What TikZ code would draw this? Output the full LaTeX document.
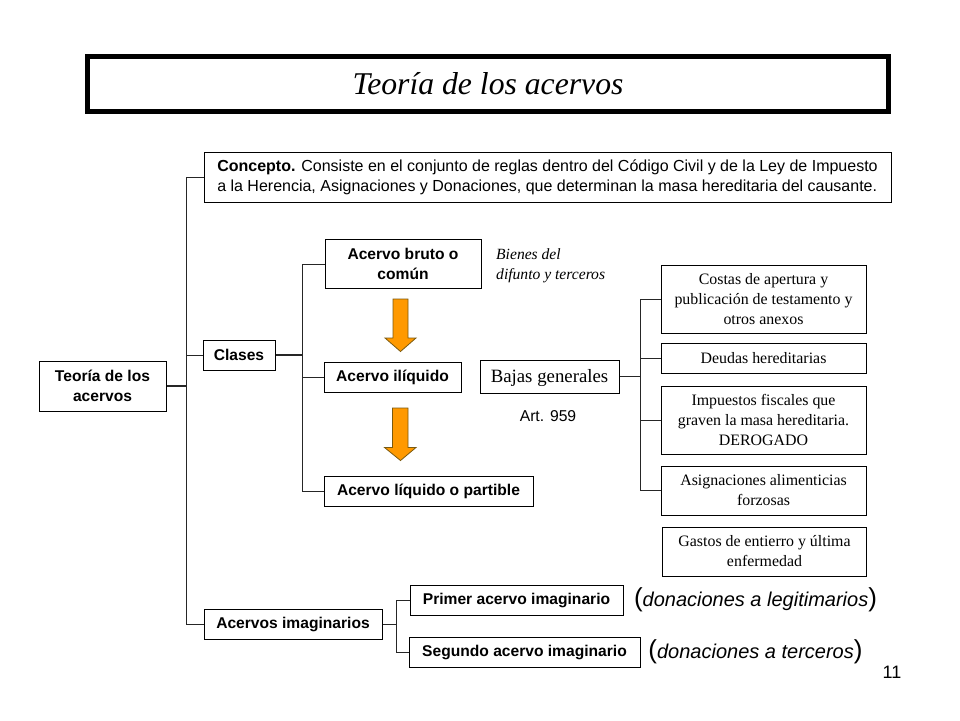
\documentclass[tikz,border=0pt]{standalone}
\usepackage{fontspec}
\setmainfont{Liberation Serif}
\setsansfont{Liberation Sans}
\definecolor{arroworange}{HTML}{FF9900}
\definecolor{arrowedge}{HTML}{7A5A10}
\tikzset{
  x=1pt,y=-1pt,
  bx/.style={draw=black,line width=1pt,fill=white,inner sep=0pt,align=center},
  sb/.style={bx,font=\sffamily\bfseries\fontsize{15.6}{20}\selectfont},
  sr/.style={bx,font=\fontsize{15.9}{20}\selectfont},
  conn/.style={draw=black!85,line width=1pt},
  downarrow/.style={draw=arrowedge,fill=arroworange,line width=.8pt,line join=miter},
  free/.style={inner sep=0pt,align=left}
}
\begin{document}
\begin{tikzpicture}
\useasboundingbox (0,0) rectangle (960,720);
\fill[white] (0,0) rectangle (960,720);
% title
\node[draw=black,line width=5pt,minimum width=801pt,minimum height=55pt,inner sep=0pt,font=\itshape\fontsize{31.7}{36}\selectfont] (title) at (488,84) {Teoría de los acervos};
% boxes
\node[bx,font=\sffamily\fontsize{16}{20}\selectfont,minimum width=687pt,minimum height=50pt,align=left] (concepto) at (547.5,177) {\textbf{Concepto.} Consiste en el conjunto de reglas dentro del Código Civil y de la Ley de Impuesto\\a la Herencia, Asignaciones y Donaciones, que determinan la masa hereditaria del causante.};
\node[sb,minimum width=127pt,minimum height=50pt] (root) at (102.5,386) {Teoría de los\\acervos};
\node[sb,minimum width=72pt,minimum height=30pt] (clases) at (239,355) {Clases};
\node[sb,minimum width=156pt,minimum height=49pt] (bruto) at (403,264) {Acervo bruto o\\común};
\node[sb,minimum width=137pt,minimum height=30pt] (iliquido) at (392.5,377) {Acervo ilíquido};
\node[sb,minimum width=209pt,minimum height=30pt] (liquido) at (428.5,491.5) {Acervo líquido o partible};
\node[bx,font=\fontsize{18.8}{22}\selectfont,minimum width=139pt,minimum height=33pt,text depth=1pt] (bajas) at (549.5,376.5) {Bajas generales};
\node[sr,minimum width=205pt,minimum height=68pt] (costas) at (763.5,299) {Costas de apertura y\\publicación de testamento y\\otros anexos};
\node[sr,minimum width=205pt,minimum height=30pt] (deudas) at (763.5,358) {Deudas hereditarias};
\node[sr,minimum width=205pt,minimum height=68pt] (impuestos) at (763.5,420) {Impuestos fiscales que\\graven la masa hereditaria.\\DEROGADO};
\node[sr,minimum width=205pt,minimum height=49pt] (asign) at (763.5,490.5) {Asignaciones alimenticias\\forzosas};
\node[sr,minimum width=204pt,minimum height=49pt] (gastos) at (764.5,551.5) {Gastos de entierro y última\\enfermedad};
\node[sb,minimum width=178pt,minimum height=30pt] (imag) at (293,624) {Acervos imaginarios};
\node[sb,minimum width=213pt,minimum height=30pt] (primer) at (516.5,600) {Primer acervo imaginario};
\node[sb,minimum width=231pt,minimum height=30pt] (segundo) at (524.5,652) {Segundo acervo imaginario};
% free text
\node[free,font=\itshape\fontsize{15.6}{20}\selectfont,anchor=north west] (bienes) at (496,248) {Bienes del\\difunto y terceros};
\node[free,font=\sffamily\fontsize{15.7}{18}\selectfont] (art) at (548,416) {Art. 959};
\node[free,font=\sffamily\itshape\fontsize{20}{24}\selectfont] (legit) at (755.5,600) {{\upshape\fontsize{26}{26}\selectfont(}donaciones a legitimarios{\upshape\fontsize{26}{26}\selectfont)}};
\node[free,font=\sffamily\itshape\fontsize{20}{24}\selectfont] (terc) at (755.5,652) {{\upshape\fontsize{26}{26}\selectfont(}donaciones a terceros{\upshape\fontsize{26}{26}\selectfont)}};
\node[free,font=\sffamily\fontsize{18}{22}\selectfont] (num) at (892,672) {11};
% connectors
\coordinate (t1) at (186,386);
\coordinate (t2) at (302,355);
\coordinate (t3) at (640,376.5);
\coordinate (t4) at (396,624);
\draw[conn,line width=1.5pt] (root.east) -- (t1);
\draw[conn] (t1) |- (concepto.west);
\draw[conn] (t1) |- (clases.west);
\draw[conn] (t1) |- (imag.west);
\draw[conn,line width=1.5pt] (clases.east) -- (t2);
\draw[conn] (t2) |- (bruto.west);
\draw[conn] (t2) |- (iliquido.west);
\draw[conn] (t2) |- (liquido.west);
\draw[conn,line width=1.5pt] (bajas.east) -- (t3);
\draw[conn] (t3) |- (costas.west);
\draw[conn] (t3) |- (deudas.west);
\draw[conn] (t3) |- (impuestos.west);
\draw[conn] (t3) |- (asign.west);
\draw[conn] (imag.east) -- (t4);
\draw[conn] (t4) |- (primer.west);
\draw[conn] (t4) |- (segundo.west);
% arrows
\draw[downarrow] (393,299) -- (408,299) -- (408,338) -- (416,338) -- (400.5,351.5) -- (385,338) -- (393,338) -- cycle;
\draw[downarrow] (392.5,408) -- (408,408) -- (408,447.5) -- (416,447.5) -- (400.5,460.5) -- (384.5,447.5) -- (392.5,447.5) -- cycle;
\end{tikzpicture}
\end{document}
